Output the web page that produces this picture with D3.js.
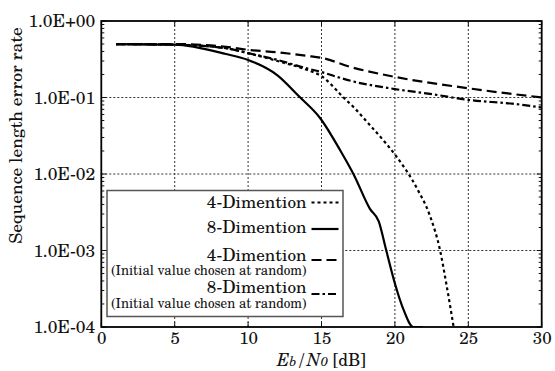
<!DOCTYPE html>
<html><head><meta charset="utf-8">
<script src="https://cdn.jsdelivr.net/npm/d3@7"></script>
<style>body{margin:0;background:#fff}svg{display:block}</style>
</head><body>
<svg id="c" width="555" height="371"></svg>
<script>
// ---- data ----
const xTicks = [0,5,10,15,20,25,30];
const yTicks = [1e-4,1e-3,1e-2,1e-1,1];
const yTickLabels = ["1.0E-04","1.0E-03","1.0E-02","1.0E-01","1.0E+00"];

const dim4X = [1,5,8.5,10,12,14,15,16.5,17.3,18.1,19.4,20,21.5,22.4,23.07,23.5,24];
const dim4Y = [0.50,0.49,0.44,0.38,0.30,0.23,0.19,0.10,0.071,0.048,0.025,0.018,0.0065,0.0028,0.00102,0.00037,0.0001];

const dim8X = [1,5,8.5,10,12,13.5,14.9,16.3,17.2,18.3,18.9,19.4,20,20.6,21.25,21.9];
const dim8Y = [0.50,0.49,0.37,0.31,0.195,0.102,0.054,0.020,0.0098,0.0035,0.0024,0.00102,0.00037,0.000166,0.0001,0.0001];

const dim4rX = [1,5,8.5,10,12,14,15,17,20,25,30];
const dim4rY = [0.50,0.50,0.46,0.42,0.39,0.35,0.33,0.25,0.186,0.132,0.10];

const dim8rX = [1,5,8.5,10,12,14,15,16.3,17,20,22.6,25,28,30];
const dim8rY = [0.50,0.49,0.44,0.38,0.31,0.24,0.215,0.18,0.165,0.129,0.11,0.093,0.083,0.074];

const seriesNames = ["4-Dimention","8-Dimention","4-Dimention","8-Dimention"];
const seriesSub = ["","","(Initial value chosen at random)","(Initial value chosen at random)"];
const seriesDash = ["3,3","none","10,5","8,3,2.5,3"];

// ---- chart ----
const FONT = "'TeX Gyre Schola','DejaVu Serif',serif";
const svg = d3.select("#c");
const L=101.3, R=541.7, T=21, B=327;
const x = d3.scaleLinear().domain([0,30]).range([L,R]);
const y = d3.scaleLog().domain([1e-4,1]).range([B,T]);

// grid
const g = svg.append("g");
g.selectAll(".gx").data(xTicks.slice(1,-1)).enter().append("line")
  .attr("x1",d=>x(d)).attr("x2",d=>x(d)).attr("y1",T).attr("y2",B)
  .attr("stroke","#333").attr("stroke-width",1).attr("stroke-dasharray","2,2");
g.selectAll(".gy").data(yTicks.slice(1,-1)).enter().append("line")
  .attr("y1",d=>y(d)).attr("y2",d=>y(d)).attr("x1",L).attr("x2",R)
  .attr("stroke","#333").attr("stroke-width",1).attr("stroke-dasharray","2,2");

// minor ticks (log)
const minor=[];
for(let e=-4;e<0;e++) for(let m=2;m<=9;m++) minor.push(m*Math.pow(10,e));
[L,R].forEach((xx,i)=>{
  g.selectAll(null).data(minor).enter().append("line")
    .attr("x1",xx).attr("x2",i===0?xx+3:xx-3)
    .attr("y1",d=>y(d)).attr("y2",d=>y(d))
    .attr("stroke","#111").attr("stroke-width",1);
  g.selectAll(null).data(yTicks).enter().append("line")
    .attr("x1",xx).attr("x2",i===0?xx+5:xx-5)
    .attr("y1",d=>y(d)).attr("y2",d=>y(d))
    .attr("stroke","#111").attr("stroke-width",1);
});
[T,B].forEach((yy,i)=>{
  g.selectAll(null).data(xTicks).enter().append("line")
    .attr("y1",yy).attr("y2",i===0?yy+5:yy-5)
    .attr("x1",d=>x(d)).attr("x2",d=>x(d))
    .attr("stroke","#111").attr("stroke-width",1);
});

// axes labels via d3 axes
const ax = d3.axisBottom(x).tickValues(xTicks).tickSize(0).tickPadding(0).tickFormat(d3.format("d"));
const axg = svg.append("g").attr("transform",`translate(0,${B})`).call(ax);
axg.attr("font-family",FONT).attr("font-size",17);
axg.select(".domain").remove();
axg.selectAll("text").attr("y",16.5).attr("dy",0).attr("fill","#111");

const ay = d3.axisLeft(y).tickValues(yTicks).tickSize(0).tickPadding(0)
  .tickFormat(d=>yTickLabels[yTicks.indexOf(d)]);
const ayg = svg.append("g").attr("transform",`translate(${L-6},0)`).call(ay);
ayg.attr("font-family",FONT).attr("font-size",17.5);
ayg.select(".domain").remove();
ayg.selectAll("text").attr("x",0).attr("dy","0.34em").attr("fill","#111");

// curves
const xs=[dim4X,dim8X,dim4rX,dim8rX], ys=[dim4Y,dim8Y,dim4rY,dim8rY];
const line = d3.line().x(d=>x(d[0])).y(d=>y(d[1])).curve(d3.curveMonotoneX);
svg.append("defs").append("clipPath").attr("id","clip").append("rect")
  .attr("x",L).attr("y",T).attr("width",R-L).attr("height",B-T);
const cg = svg.append("g").attr("clip-path","url(#clip)");
xs.forEach((xa,i)=>{
  const pts = xa.map((v,j)=>[v,ys[i][j]]);
  cg.append("path").attr("d",line(pts)).attr("fill","none").attr("stroke","#000")
    .attr("stroke-width",2.2).attr("stroke-dasharray",seriesDash[i]);
});

// frame
svg.append("rect").attr("x",L).attr("y",T).attr("width",R-L).attr("height",B-T)
  .attr("fill","none").attr("stroke","#000").attr("stroke-width",1.8);

// legend
const lg = svg.append("g").attr("font-family",FONT).attr("fill","#111");
lg.append("rect").attr("x",107).attr("y",190.5).attr("width",236).attr("height",126)
  .attr("fill","#fff").attr("stroke","#555").attr("stroke-width",1.5);
const rowText=[208.3,233.3,260.5,292.8];
const rowSub=[274,274,274.5,308];
const rowLine=[202.5,229,260,294];
seriesNames.forEach((n,i)=>{
  lg.append("text").attr("x",306.5).attr("y",rowText[i]).attr("text-anchor","end")
    .attr("font-size",17.2).text(n);
  if(seriesSub[i]) lg.append("text").attr("x",306.5).attr("y",rowSub[i]).attr("text-anchor","end")
    .attr("font-size",13.2).text(seriesSub[i]);
  lg.append("line").attr("x1",311.5).attr("x2",338.5).attr("y1",rowLine[i]).attr("y2",rowLine[i])
    .attr("stroke","#000").attr("stroke-width",2.2).attr("stroke-dasharray",seriesDash[i]);
});

// axis titles
const xt = svg.append("text").attr("x",(L+R)/2).attr("y",366).attr("text-anchor","middle")
  .attr("font-family",FONT).attr("font-size",17).attr("fill","#111");
xt.append("tspan").attr("font-style","italic").text("E");
xt.append("tspan").attr("font-style","italic").attr("font-size",13).text("b");
xt.append("tspan").attr("font-style","italic").text("/N");
xt.append("tspan").attr("font-style","italic").attr("font-size",13).text("0");
xt.append("tspan").text(" [dB]");

svg.append("text").attr("transform","translate(22,135.5) rotate(-90)")
  .attr("text-anchor","middle").attr("font-family",FONT).attr("font-size",17.5).attr("fill","#111")
  .text("Sequence length error rate");
</script>
</body></html>
